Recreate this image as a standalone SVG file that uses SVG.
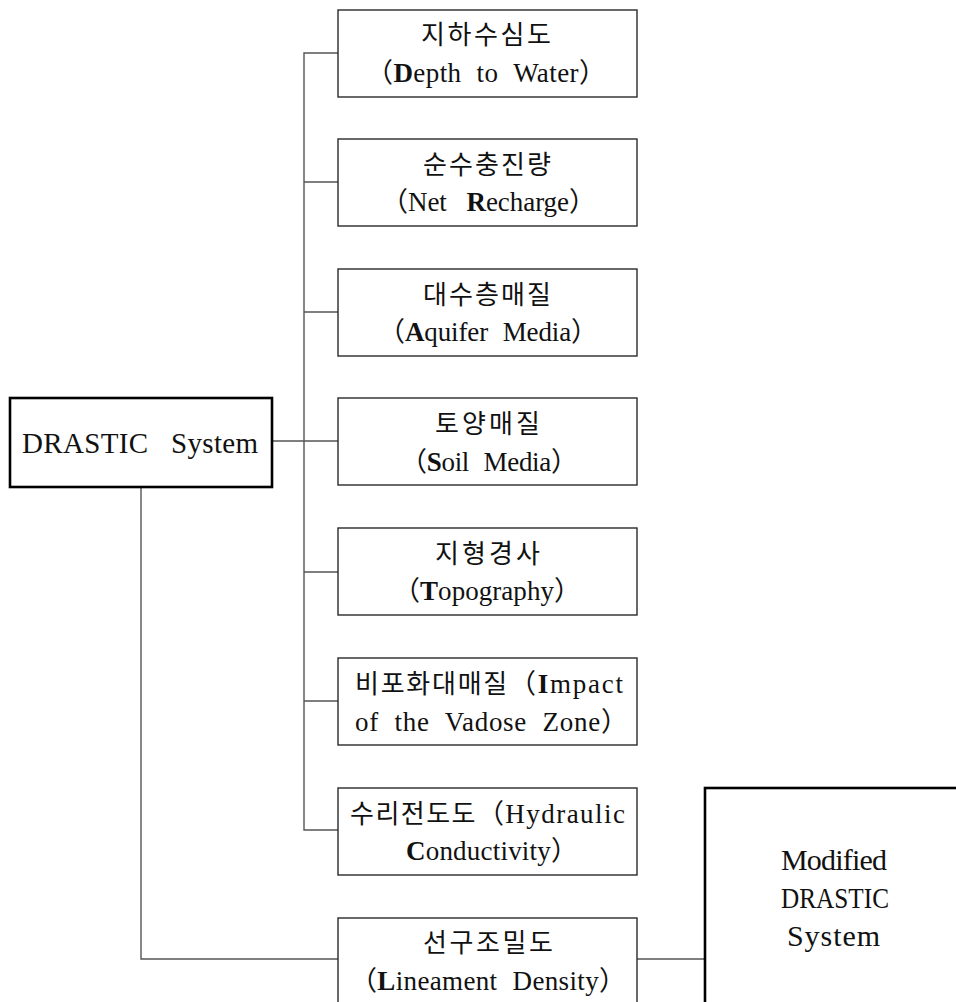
<svg xmlns="http://www.w3.org/2000/svg" width="956" height="1002" viewBox="0 0 956 1002">
<style>
.box{fill:#fff;stroke:#2a2a2a;stroke-width:1.4}
.main{fill:#fff;stroke:#000;stroke-width:2.6}
.con{fill:none;stroke:#555;stroke-width:1.4}
text{font-family:"Liberation Serif","Noto Sans CJK KR",serif;font-size:27px;fill:#111;word-spacing:8px}
.k{font-size:26px}
.b{font-weight:bold}
.big{font-size:29px;word-spacing:0}
</style>
<rect width="956" height="1002" fill="#fff"/>
<g id="connectors">
<path class="con" d="M338 53H304V830H338"/>
<path class="con" d="M304 182H338M304 312H338M304 572H338M304 701H338"/>
<path class="con" d="M272 441H338"/>
<path class="con" d="M141 487V959H338"/>
<path class="con" d="M637 959H705"/>
</g>
<g id="drastic">
<rect class="main" x="10" y="398" width="262" height="89"/>
<text x="22" y="453" class="big" textLength="236" xml:space="preserve">DRASTIC   System</text>
</g>
<g id="n1">
<rect class="box" x="338" y="10" width="299" height="87"/>
<text x="421" y="44" textLength="130" class="k">지하수심도</text>
<text x="366" y="82" textLength="240">（<tspan class="b">D</tspan>epth to Water）</text>
</g>
<g id="n2">
<rect class="box" x="338" y="139" width="299" height="87"/>
<text x="423" y="174" textLength="128" class="k">순수충진량</text>
<text x="381" y="211" textLength="215" style="word-spacing:13px">（Net <tspan class="b">R</tspan>echarge）</text>
</g>
<g id="n3">
<rect class="box" x="338" y="269" width="299" height="87"/>
<text x="423" y="304" textLength="128" class="k">대수층매질</text>
<text x="378" y="341" textLength="220">（<tspan class="b">A</tspan>quifer Media）</text>
</g>
<g id="n4">
<rect class="box" x="338" y="398" width="299" height="87"/>
<text x="435" y="433" textLength="105" class="k">토양매질</text>
<text x="400" y="471" textLength="178">（<tspan class="b">S</tspan>oil Media）</text>
</g>
<g id="n5">
<rect class="box" x="338" y="528" width="299" height="87"/>
<text x="435" y="563" textLength="105" class="k">지형경사</text>
<text x="393" y="600" textLength="188">（<tspan class="b">T</tspan>opography）</text>
</g>
<g id="n6">
<rect class="box" x="338" y="658" width="299" height="87"/>
<text x="355" y="693" textLength="268"><tspan class="k">비포화대매질</tspan>（<tspan class="b">I</tspan>mpact</text>
<text x="355" y="731" textLength="273">of the Vadose Zone）</text>
</g>
<g id="n7">
<rect class="box" x="338" y="788" width="299" height="87"/>
<text x="350" y="823" textLength="275"><tspan class="k">수리전도도</tspan>（Hydraulic</text>
<text x="406" y="860" textLength="172"><tspan class="b">C</tspan>onductivity）</text>
</g>
<g id="n8">
<rect class="box" x="338" y="918" width="299" height="95"/>
<text x="423" y="952" textLength="130" class="k">선구조밀도</text>
<text x="350" y="990" textLength="276">（<tspan class="b">L</tspan>ineament Density）</text>
</g>
<g id="modified">
<rect class="main" x="705" y="788" width="260" height="230"/>
<text x="781" y="870" class="big" style="font-size:30px" textLength="106">Modified</text>
<text x="781" y="908" class="big" textLength="108" lengthAdjust="spacingAndGlyphs">DRASTIC</text>
<text x="787" y="946" class="big" style="font-size:30px" textLength="93">System</text>
</g>
</svg>
